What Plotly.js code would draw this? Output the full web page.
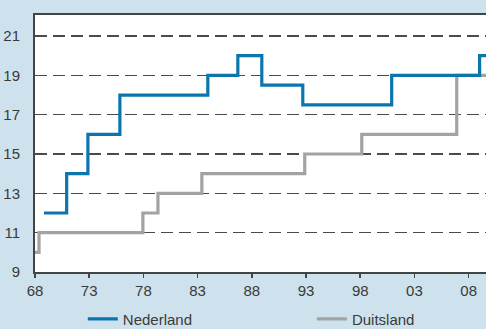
<!DOCTYPE html>
<html><head><meta charset="utf-8">
<script src="https://cdn.plot.ly/plotly-3.0.1.min.js"></script>
<style>html,body{margin:0;padding:0;background:#cde2ec;}#c{width:486px;height:329px;}</style>
</head><body><div id="c"></div>
<script>
const nlYears = [1968.83, 1970.92, 1972.88, 1975.83, 1983.94, 1986.71, 1988.92, 1992.70, 2000.90, 2009.01, 2009.6];
const nlValues = [12, 14, 16, 18, 19, 20, 18.5, 17.5, 19, 20, 20];
const deYears = [1968.0, 1968.37, 1977.95, 1979.34, 1983.39, 1992.88, 1998.14, 2006.9, 2009.6];
const deValues = [10, 11, 12, 13, 14, 15, 16, 19, 19];
const xTickVals = [1968, 1973, 1978, 1983, 1988, 1993, 1998, 2003, 2008];
const xTickText = ['68', '73', '78', '83', '88', '93', '98', '03', '08'];
const yTickVals = [9, 11, 13, 15, 17, 19, 21];

const traces = [
  {x: deYears, y: deValues, name: 'Duitsland', mode: 'lines', line: {shape: 'hv', color: '#a3a3a3', width: 3.2}, legend: 'legend2'},
  {x: nlYears, y: nlValues, name: 'Nederland', mode: 'lines', line: {shape: 'hv', color: '#0a76ad', width: 3.2}, legend: 'legend'}
];
const legStyle = {orientation: 'h', xanchor: 'left', yref: 'container', y: 0.08, yanchor: 'top',
                  font: {size: 15, color: '#3a3a3a'}, bgcolor: 'rgba(0,0,0,0)', borderwidth: 0};
const layout = {
  width: 486, height: 329,
  margin: {l: 35, r: 0, t: 15, b: 57},
  paper_bgcolor: '#cde2ec', plot_bgcolor: '#ffffff',
  font: {family: 'Liberation Sans, Arial, sans-serif', color: '#3a3a3a', size: 14},
  xaxis: {range: [1968, 2009.6], tickvals: xTickVals, ticktext: xTickText, showgrid: false, zeroline: false,
          showline: true, linecolor: '#444', linewidth: 2, mirror: true, ticks: 'outside', ticklen: 4, tickcolor: '#444', tickwidth: 1.5,
          tickfont: {size: 15}},
  yaxis: {range: [9, 22.07], tickvals: yTickVals, showgrid: true, gridcolor: '#4a4a4a', griddash: '12px,6px', gridwidth: 1.2,
          zeroline: false, showline: true, linecolor: '#444', linewidth: 2, ticks: 'outside', ticklen: 10, tickcolor: 'rgba(0,0,0,0)',
          tickfont: {size: 15}},
  showlegend: true,
  legend: Object.assign({}, legStyle, {x: 0.106}),
  legend2: Object.assign({}, legStyle, {x: 0.614})
};
Plotly.newPlot('c', traces, layout, {displayModeBar: false, staticPlot: true});
</script></body></html>
